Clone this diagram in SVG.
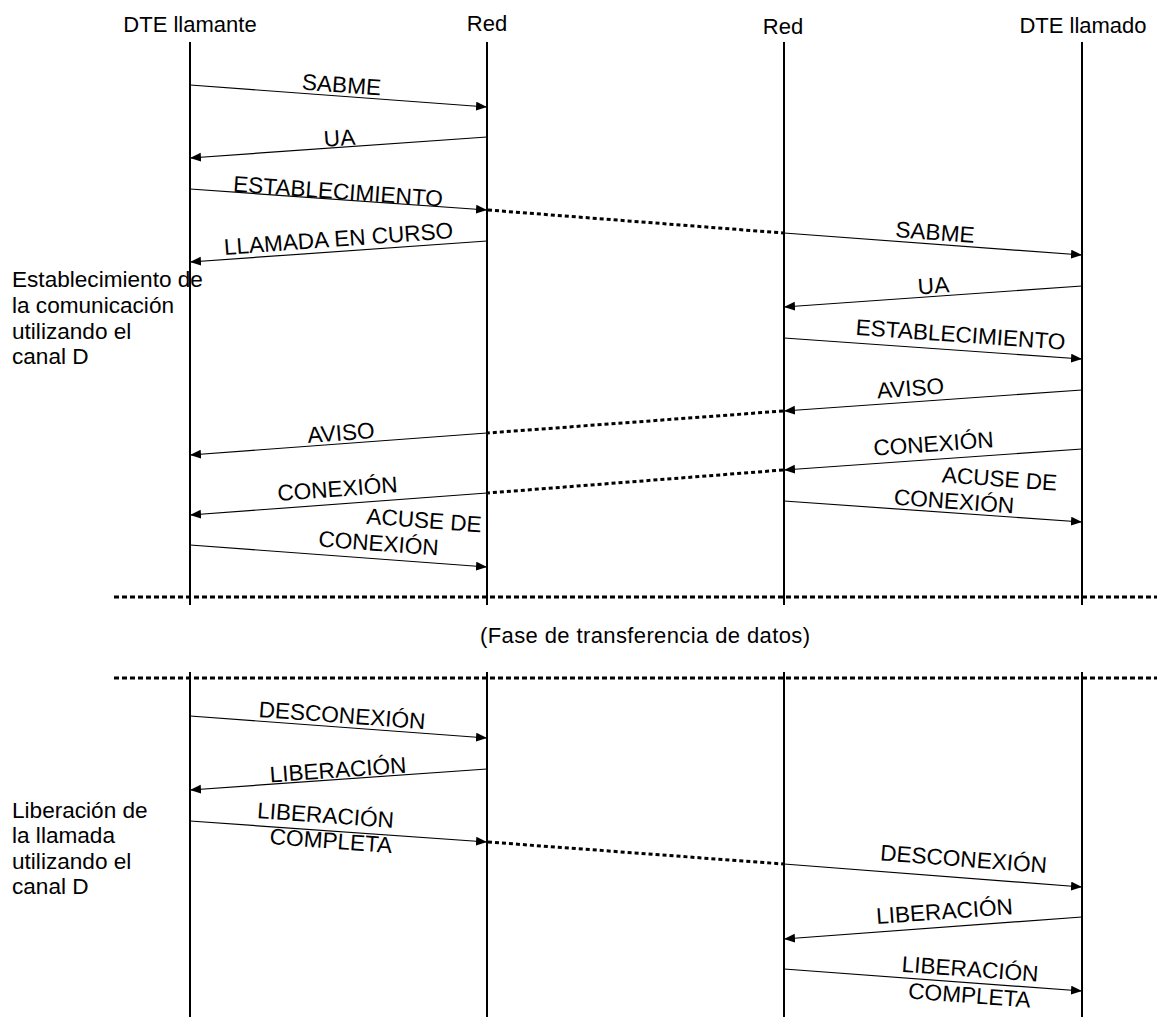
<svg xmlns="http://www.w3.org/2000/svg" width="1157" height="1019" viewBox="0 0 1157 1019">
<style>
text{font-family:"Liberation Sans",Arial,sans-serif;font-size:22px;fill:#000}
.h{text-anchor:middle}
.c{font-size:22.6px}
.m{text-anchor:middle;font-size:22.6px}
.life{stroke:#000;stroke-width:2;fill:none}
.msg{stroke:#000;stroke-width:1.2;fill:none;marker-end:url(#ah)}
.dot{stroke:#000;stroke-width:3;stroke-dasharray:4 3;fill:none}
.sep{stroke:#000;stroke-width:3;stroke-dasharray:5 3;fill:none}
</style>
<defs>
<marker id="ah" markerUnits="userSpaceOnUse" markerWidth="12" markerHeight="10" refX="11" refY="4.5" orient="auto">
<path d="M0,0 L11,4.5 L0,9 z" fill="#000"/>
</marker>
</defs>
<rect width="1157" height="1019" fill="#fff"/>
<g id="node-dte-llamante">
<text class="h" x="190" y="32">DTE llamante</text>
<line class="life" x1="190" y1="42" x2="190" y2="605"/>
<line class="life" x1="190" y1="672" x2="190" y2="1017"/>
</g>
<g id="node-red-1">
<text class="h" x="487" y="31">Red</text>
<line class="life" x1="487" y1="42" x2="487" y2="605"/>
<line class="life" x1="487" y1="672" x2="487" y2="1017"/>
</g>
<g id="node-red-2">
<text class="h" x="783" y="34">Red</text>
<line class="life" x1="784" y1="42" x2="784" y2="605"/>
<line class="life" x1="784" y1="672" x2="784" y2="1017"/>
</g>
<g id="node-dte-llamado">
<text class="h" x="1083" y="33">DTE llamado</text>
<line class="life" x1="1082" y1="42" x2="1082" y2="605"/>
<line class="life" x1="1082" y1="672" x2="1082" y2="1017"/>
</g>
<g id="captions">
<text class="c" x="12" y="287">Establecimiento de</text>
<text class="c" x="12" y="313">la comunicación</text>
<text class="c" x="12" y="339">utilizando el</text>
<text class="c" x="12" y="364">canal D</text>
<text class="c" x="12" y="818">Liberación de</text>
<text class="c" x="12" y="843">la llamada</text>
<text class="c" x="12" y="869">utilizando el</text>
<text class="c" x="12" y="894">canal D</text>
<text class="h" x="645" y="643" textLength="330">(Fase de transferencia de datos)</text>
</g>
<g id="separators">
<line class="sep" x1="114" y1="597" x2="1157" y2="597"/>
<line class="sep" x1="114" y1="678" x2="1157" y2="678"/>
</g>
<g id="connectors">
<line class="msg" x1="190" y1="85" x2="487" y2="107"/>
<line class="msg" x1="487" y1="137" x2="190" y2="158"/>
<line class="msg" x1="190" y1="189" x2="487" y2="210"/>
<line class="msg" x1="487" y1="241" x2="190" y2="262"/>
<line class="dot" x1="488" y1="210" x2="783" y2="233"/>
<line class="msg" x1="784" y1="233" x2="1082" y2="255"/>
<line class="msg" x1="1082" y1="286" x2="784" y2="307"/>
<line class="msg" x1="784" y1="338" x2="1082" y2="359"/>
<line class="msg" x1="1082" y1="390" x2="784" y2="411"/>
<line class="dot" x1="783" y1="411" x2="488" y2="433"/>
<line class="msg" x1="487" y1="433" x2="190" y2="455"/>
<line class="msg" x1="1082" y1="449" x2="784" y2="470"/>
<line class="dot" x1="783" y1="470" x2="488" y2="493"/>
<line class="msg" x1="487" y1="493" x2="190" y2="515"/>
<line class="msg" x1="784" y1="501" x2="1082" y2="522"/>
<line class="msg" x1="190" y1="545" x2="487" y2="567"/>
<line class="msg" x1="190" y1="716" x2="487" y2="738"/>
<line class="msg" x1="487" y1="769" x2="190" y2="790"/>
<line class="msg" x1="190" y1="821" x2="487" y2="842"/>
<line class="dot" x1="488" y1="842" x2="783" y2="864"/>
<line class="msg" x1="784" y1="864" x2="1082" y2="887"/>
<line class="msg" x1="1082" y1="917" x2="784" y2="939"/>
<line class="msg" x1="784" y1="969" x2="1082" y2="991"/>
</g>
<g id="labels">
<text class="m" transform="translate(341,92.5) rotate(4.2)">SABME</text>
<text class="m" transform="translate(340,145.7) rotate(-4.1)">UA</text>
<text class="m" transform="translate(337.5,199) rotate(4.1)">ESTABLECIMIENTO</text>
<text class="m" transform="translate(339,246.5) rotate(-4.2)">LLAMADA EN CURSO</text>
<text class="m" transform="translate(934.5,240) rotate(4.2)">SABME</text>
<text class="m" transform="translate(934,293.3) rotate(-4.1)">UA</text>
<text class="m" transform="translate(960,342.3) rotate(4.1)">ESTABLECIMIENTO</text>
<text class="m" transform="translate(911,396) rotate(-4.1)">AVISO</text>
<text class="m" transform="translate(341.5,440.5) rotate(-4.2)">AVISO</text>
<text class="m" transform="translate(934,451.5) rotate(-4.1)">CONEXIÓN</text>
<text class="m" transform="translate(338,496.5) rotate(-4.2)">CONEXIÓN</text>
<text class="m" transform="translate(999,486.5) rotate(4.1)">ACUSE DE</text>
<text class="m" transform="translate(953.5,509) rotate(4.1)">CONEXIÓN</text>
<text class="m" transform="translate(423.5,528) rotate(4.2)">ACUSE DE</text>
<text class="m" transform="translate(378,551) rotate(4.2)">CONEXIÓN</text>
<text class="m" transform="translate(341.5,723) rotate(4.2)">DESCONEXIÓN</text>
<text class="m" transform="translate(338.5,777.5) rotate(-4.1)">LIBERACIÓN</text>
<text class="m" transform="translate(325,823) rotate(4.2)">LIBERACIÓN</text>
<text class="m" transform="translate(330.5,848.5) rotate(4.2)">COMPLETA</text>
<text class="m" transform="translate(963,866.7) rotate(4.4)">DESCONEXIÓN</text>
<text class="m" transform="translate(945,919) rotate(-4.2)">LIBERACIÓN</text>
<text class="m" transform="translate(969.5,976.7) rotate(4.2)">LIBERACIÓN</text>
<text class="m" transform="translate(969,1003) rotate(4.2)">COMPLETA</text>
</g>
</svg>
